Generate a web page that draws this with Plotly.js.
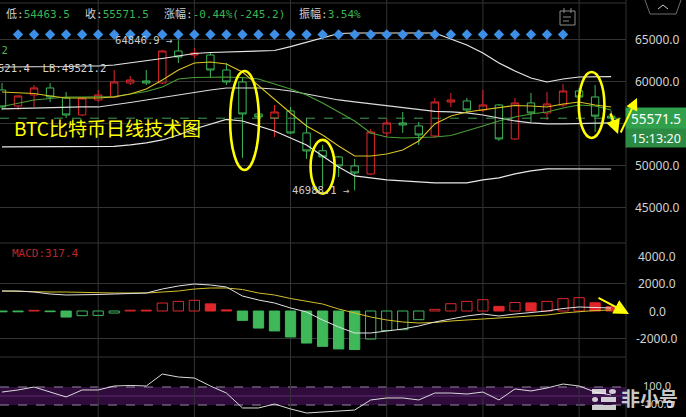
<!DOCTYPE html>
<html>
<head>
<meta charset="utf-8">
<script src="https://cdn.plot.ly/plotly-3.0.1.min.js"></script>
<style>
html,body{margin:0;padding:0;background:#000;overflow:hidden;}
#chart{width:686px;height:417px;}
</style>
</head>
<body>
<div id="chart"></div>
<script>
// ---------------- data ----------------
const days = Array.from({length: 39}, (_, i) => i);
const openP  = [58931,57027,58336,59169,57979,55956,57741,58098,59764,60002,59764,63572,63096,63096,61311,59883,56075,55599,56432,53814,51700,50958,49887,48929,53814,55004,54647,53457,57503,57622,56551,57146,53100,57384,56194,57146,58812,58098,55816.7];
const highP  = [59764,58300,59526,59764,58693,58098,58931,61311,60597,61311,63691,64846.9,63929,63453,62144,60478,56313,57146,56908,55599,52400,51077,50720,54290,55480,56313,55123,57979,58574,57979,58931,57265,57979,58574,58693,59640,59169,59526,56440];
const lowP   = [56551,56551,56908,57503,55599,55837,57503,57979,59526,59526,59645,62144,62739,60359,59526,50839,55361,53338,53695,50720,47300,48578,46988.1,48810,53338,53814,52386,53219,56908,56194,56313,52862,52981,55123,55361,56908,57741,53933,54463.5];
const closeP = [56908,58217,59169,58098,55956,57979,58336,59883,60121,59764,63572,62858,63334,61311,59883,56075,55718,56313,53814,51672,50958,49887,49054,53933,55004,54766,53576,57503,57741,56551,57146,53100,57384,56194,57265,58812,58098,55816.7,55571.5];

const bollUpper = [61668,61668,61668,61727,61727,61787,61787,61906,62144,62382,62680,62977,63275,63394,63453,63513,63572,63632,64096,64607,65119,65655,65714,65714,65714,65714,65714,65714,65000,64286,63334,62144,61192,60359,59883,60240,60478,60538,60521.4];
const bollMid   = [56670,56730,56789,56789,56849,56908,56908,57146,57444,57741,58039,58336,58693,58931,59169,59169,59169,59050,58812,58455,58098,57741,57503,57265,57027,56789,56551,56373,56313,56194,55956,55599,55242,55004,54885,54885,54945,55004,55021.2];
const bollLower = [52148,52148,52148,52148,52148,52148,52148,52208,52386,52624,52981,53576,54290,54885,55421,55242,54647,54052,53219,52386,51077,49768,48697,48459,48221,48102,47983,47864,47864,47864,48221,48459,48935,49292,49530,49530,49530,49530,49521.2];
const maFast    = [58693,58634,58515,58217,57979,57979,57979,58098,58455,59050,60121,61311,62144,62263,62025,61073,59407,57741,56194,54647,53576,52267,51077,51077,51315,51791,52862,54885,55837,56313,56551,56789,57087,57027,56908,57265,57503,57146,56908];
const maSlow    = [56968,57384,57741,57920,58098,58098,58098,58158,58455,58753,59288,60240,60419,60478,60478,60419,60240,59645,59050,58336,57384,56313,55242,53814,53338,53219,53279,53338,53517,54052,54647,55242,55718,56075,56313,56789,57146,57027,56551];

const macdHist = [-60,-60,50,-50,-440,-340,-320,-150,60,60,580,700,780,520,80,-680,-1240,-1450,-1890,-2330,-2570,-2760,-2800,-2040,-1420,-1360,-630,120,530,700,820,340,620,590,700,900,970,600,317.4];
const macdDif  = [1454,1454,1381,1236,1163,1163,1200,1236,1272,1309,1600,1818,1963,1890,1745,1090,800,582,218,-73,-654,-1163,-1600,-1600,-1454,-1309,-1090,-800,-582,-363,-218,-363,-218,-109,0,182,291,254,218];
const macdDea  = [1454,1418,1381,1381,1381,1345,1345,1309,1309,1309,1381,1454,1600,1672,1672,1563,1309,1163,909,727,509,145,-145,-436,-654,-800,-872,-836,-727,-654,-582,-545,-473,-363,-291,-145,-36,36,73];

const oscValues = [44,67,100,44,-11,67,67,111,117,111,244,211,200,111,33,-133,-133,-89,-144,-189,-178,-167,-156,-44,-22,-22,-44,33,33,22,44,-44,78,56,89,133,111,44,11];

const markerDays = Array.from({length: 35}, (_, i) => i + 1);
const gridDays   = [6, 12, 18, 24, 30, 36];
const circledDays = [15, 20, 37];

const priceTicks = [65000, 60000, 55000, 50000, 45000];
const priceLabels = [65000, 60000, 50000, 45000];   // 55000 sits under the price box
const macdTicks  = [4000, 2000, 0, -2000];
const oscTicks   = [100, -100];
const clockText  = '15:13:20';
const titleText  = 'BTC比特币日线技术图';

// ---------------- geometry helpers (pixel calibration) ----------------
const W = 686, H = 417, PLOT_W = 626;
const STEP = 16.03, X0PX = 2;
const xRange = [-X0PX / STEP, (PLOT_W - X0PX) / STEP];
const px = x => x / PLOT_W;
const py = y => 1 - y / H;
const PPX = 119.05;                       // price units per pixel
const priceAt = y => 65000 - (y - 39) * PPX;
const macdAt  = y => (311 - y) * 72.73;
const oscAt   = y => (396 - y) / 0.09;

// ---------------- colours ----------------
const RED = '#e0262b', GREEN = '#3fb85a', GRID = '#333333';
const YEL = '#ffff00', LABEL = '#cfcfcf', VAL = '#38b652';
const MONO = 'DejaVu Sans Mono, Noto Sans CJK SC, monospace';
const CJK = 'Noto Sans CJK SC, sans-serif';
const SANS = 'Noto Sans, Liberation Sans, sans-serif';

const last = closeP.length - 1;
const prevClose = closeP[last - 1];
const chg = closeP[last] - prevClose;
const chgPct = chg / prevClose * 100;
const amp = (highP[last] - lowP[last]) / prevClose * 100;

// ---------------- traces ----------------
const lineTrace = (y, color, width, yaxis) => ({
  type: 'scatter', mode: 'lines', x: days, y: y, yaxis: yaxis || 'y',
  line: {color: color, width: width}, hoverinfo: 'skip'
});

const histFill = macdHist.map((v, i) => {
  const prev = i ? macdHist[i - 1] : v;
  const col = v >= 0 ? RED : GREEN;
  return v > prev ? 'rgba(0,0,0,0)' : col;
});
const histLine = macdHist.map(v => v >= 0 ? RED : GREEN);

const traces = [
  lineTrace(bollUpper, '#e8e8e8', 1.2),
  lineTrace(bollMid, '#dcdcdc', 1.2),
  lineTrace(bollLower, '#e8e8e8', 1.2),
  lineTrace(maSlow, '#4a9f36', 1.1),
  lineTrace(maFast, '#d9c323', 1.1),
  {
    type: 'candlestick', x: days, open: openP, high: highP, low: lowP, close: closeP,
    increasing: {line: {color: RED, width: 1}, fillcolor: 'rgba(0,0,0,0)'},
    decreasing: {line: {color: GREEN, width: 1}, fillcolor: 'rgba(0,0,0,0)'},
    whiskerwidth: 0, hoverinfo: 'skip'
  },
  {
    type: 'scatter', mode: 'markers', x: markerDays,
    y: markerDays.map(() => priceAt(34.5)),
    marker: {symbol: 'diamond', size: 8, color: '#3d8ee6'}, hoverinfo: 'skip'
  },
  {
    type: 'bar', x: days, y: macdHist, yaxis: 'y2', width: 0.64,
    marker: {color: histFill, line: {color: histLine, width: 1}}, hoverinfo: 'skip'
  },
  lineTrace(macdDea, '#d2c02c', 1, 'y2'),
  lineTrace(macdDif, '#e2e2e2', 1, 'y2'),
  lineTrace(oscValues, '#dadada', 1, 'y3')
];

// ---------------- shapes ----------------
const pathFrom = pts => pts.map((p, i) => (i ? 'L' : 'M') + px(p[0]) + ',' + py(p[1])).join(' ');
const shapes = [];
shapes.push({type: 'rect', xref: 'paper', yref: 'y3', x0: 0, x1: 1, y0: -100, y1: 100,
  fillcolor: '#2f0c3c', line: {width: 0}, layer: 'below'});
shapes.push({type: 'line', xref: 'paper', yref: 'y3', x0: 0, x1: 1, y0: 0, y1: 0,
  line: {color: '#5e2a72', width: 1}, layer: 'below'});
oscTicks.forEach(v => shapes.push({type: 'line', xref: 'paper', yref: 'y3', x0: 0, x1: 1, y0: v, y1: v,
  line: {color: '#9686a6', width: 1, dash: 'dash'}, layer: 'below'}));
gridDays.forEach(d => shapes.push({type: 'line', xref: 'x', yref: 'paper', x0: d, x1: d, y0: 0, y1: 1,
  line: {color: GRID, width: 1}, layer: 'below'}));
[3, 243, 357].forEach(y => shapes.push({type: 'line', xref: 'paper', yref: 'paper', x0: 0, x1: 1, y0: py(y), y1: py(y),
  line: {color: GRID, width: 1}, layer: 'below'}));
shapes.push({type: 'line', xref: 'paper', yref: 'paper', x0: 1, x1: 1, y0: 0, y1: 1, line: {color: GRID, width: 1}});
shapes.push({type: 'line', xref: 'paper', yref: 'y', x0: 0, x1: 1, y0: closeP[last], y1: closeP[last],
  line: {color: '#3f9d52', width: 1, dash: 'dash'}});
const ellipseStyle = {15: {dx: 0.13, half: 0.9, top: 6, bot: 12}, 20: {dx: 0, half: 0.75, top: 5, bot: 6}, 37: {dx: -0.22, half: 0.8, top: 13, bot: 6}};
circledDays.forEach(d => {
  const s = ellipseStyle[d];
  shapes.push({type: 'circle', xref: 'x', yref: 'y',
    x0: d + s.dx - s.half, x1: d + s.dx + s.half,
    y0: lowP[d] - s.bot * PPX, y1: highP[d] + s.top * PPX,
    line: {color: YEL, width: 2.6}});
});
shapes.push({type: 'rect', xref: 'paper', yref: 'paper', x0: px(560), x1: px(575), y0: py(25), y1: py(11), line: {color: '#8c8c8c', width: 1}});
shapes.push({type: 'path', xref: 'paper', yref: 'paper', path: pathFrom([[563, 17], [571, 17]]), line: {color: '#8c8c8c', width: 1}});
shapes.push({type: 'path', xref: 'paper', yref: 'paper', path: pathFrom([[563, 21], [569, 21]]), line: {color: '#8c8c8c', width: 1}});
shapes.push({type: 'path', xref: 'paper', yref: 'paper', path: pathFrom([[564, 8], [564, 13]]), line: {color: '#8c8c8c', width: 1}});
shapes.push({type: 'path', xref: 'paper', yref: 'paper', path: pathFrom([[571, 8], [571, 13]]), line: {color: '#8c8c8c', width: 1}});
shapes.push({type: 'path', xref: 'paper', yref: 'paper', path: pathFrom([[645, 0], [650, 14], [676, 14], [681, 0]]), line: {color: '#6e6e6e', width: 1}});
shapes.push({type: 'path', xref: 'paper', yref: 'paper', path: pathFrom([[658, 9], [663, 5], [668, 9]]), line: {color: '#cccccc', width: 1}});
const wm = 'rgba(238,238,238,0.85)';
[[592, 389, 606, 394], [601, 397, 616, 402], [592, 405, 616, 410]].forEach(r =>
  shapes.push({type: 'rect', xref: 'paper', yref: 'paper', x0: px(r[0]), x1: px(r[2]), y0: py(r[3]), y1: py(r[1]), fillcolor: wm, line: {width: 0}}));
[[609, 389, 616, 394], [592, 397, 598, 402]].forEach(r =>
  shapes.push({type: 'circle', xref: 'paper', yref: 'paper', x0: px(r[0]), x1: px(r[2]), y0: py(r[3]), y1: py(r[1]), fillcolor: wm, line: {width: 0}}));

// ---------------- annotations ----------------
const ann = [];
const txt = (o) => Object.assign({showarrow: false, xref: 'paper', yref: 'paper'}, o);
const hdr = [
  [4, '低:', lowP[last].toFixed(1)],
  [83, '收:', closeP[last].toFixed(1)],
  [162, '涨幅:', chgPct.toFixed(2) + '%(' + chg.toFixed(1) + ')'],
  [297, '振幅:', amp.toFixed(2) + '%']
];
hdr.forEach(h => ann.push(txt({x: px(h[0]), y: py(14), xanchor: 'left', yanchor: 'middle',
  text: h[1] + '<span style="color:' + VAL + '">' + h[2] + '</span>',
  font: {family: MONO, size: 11, color: LABEL}})));
ann.push(txt({x: px(9.5), y: py(50), xanchor: 'right', yanchor: 'middle',
  text: 'MB:' + bollMid[last].toFixed(1), font: {family: MONO, size: 10.6, color: '#4fb04f'}}));
ann.push(txt({x: px(108), y: py(68), xanchor: 'right', yanchor: 'middle',
  text: 'UB:' + bollUpper[last].toFixed(1) + '\u00a0\u00a0LB:' + bollLower[last].toFixed(1),
  font: {family: MONO, size: 10.6, color: '#d2d2d2'}}));
const hiDay = highP.indexOf(Math.max(...highP));
const loDay = lowP.indexOf(Math.min(...lowP));
ann.push({xref: 'x', yref: 'y', x: hiDay, y: highP[hiDay], xanchor: 'right', yanchor: 'middle', xshift: -3, showarrow: false,
  text: highP[hiDay].toFixed(1) + ' →', font: {family: MONO, size: 10.6, color: '#cccccc'}});
ann.push({xref: 'x', yref: 'y', x: loDay, y: lowP[loDay], xanchor: 'right', yanchor: 'middle', xshift: -3, showarrow: false,
  text: lowP[loDay].toFixed(1) + ' →', font: {family: MONO, size: 10.6, color: '#cccccc'}});
ann.push(txt({x: px(12), y: py(127), xanchor: 'left', yanchor: 'middle', text: titleText,
  font: {family: CJK, size: 19, color: YEL}}));
ann.push(txt({x: px(10), y: py(253), xanchor: 'left', yanchor: 'middle',
  text: 'MACD:' + macdHist[last].toFixed(1), font: {family: MONO, size: 11, color: '#b8272c'}}));
priceLabels.forEach(v => ann.push({xref: 'paper', yref: 'y', x: px(657), y: v, xanchor: 'center', yanchor: 'middle', showarrow: false,
  text: v.toFixed(1), font: {family: SANS, size: 12, color: '#d2d2d2'}}));
macdTicks.forEach(v => ann.push({xref: 'paper', yref: 'y2', x: px(657), y: v, xanchor: 'center', yanchor: 'middle', showarrow: false,
  text: v.toFixed(1), font: {family: SANS, size: 12, color: '#d2d2d2'}}));
oscTicks.forEach(v => ann.push({xref: 'paper', yref: 'y3', x: px(657), y: v, xanchor: 'center', yanchor: 'middle', showarrow: false, yshift: 2,
  text: v.toFixed(1), font: {family: SANS, size: 11, color: '#cfcfcf'}}));
ann.push({xref: 'paper', yref: 'y', x: px(656), y: closeP[last], xanchor: 'center', yanchor: 'middle', showarrow: false,
  width: 60, height: 21, borderpad: 0, bgcolor: '#31a04d', text: closeP[last].toFixed(1),
  font: {family: SANS, size: 13.5, color: '#ffffff'}});
ann.push({xref: 'paper', yref: 'y', x: px(656), y: closeP[last], yshift: -20, xanchor: 'center', yanchor: 'middle', showarrow: false,
  width: 60, height: 18, borderpad: 0, bgcolor: '#2b8b43', text: clockText,
  font: {family: SANS, size: 12.5, color: '#ffffff'}});
const arrow = (hx, hy, tx, ty, size, width) => ({xref: 'paper', yref: 'paper', x: px(hx), y: py(hy),
  ax: tx - hx, ay: ty - hy, text: '', showarrow: true, arrowhead: 2, arrowsize: size, arrowwidth: width, arrowcolor: YEL});
ann.push(arrow(618, 134, 610, 112, 1.1, 2.6));
ann.push(arrow(637, 98, 620, 134, 1.2, 2));
ann.push(arrow(629, 314, 597, 297, 1.5, 2));
ann.push(txt({x: px(649), y: py(397), xanchor: 'center', yanchor: 'middle', text: '非小号',
  font: {family: CJK, size: 19, color: wm, weight: 'bold'}}));

// ---------------- layout ----------------
const hiddenY = {showticklabels: false, ticks: '', zeroline: false, showline: false, fixedrange: true, anchor: 'x'};
const layout = {
  width: W, height: H,
  margin: {l: 0, r: W - PLOT_W, t: 0, b: 0, pad: 0},
  paper_bgcolor: '#000000', plot_bgcolor: '#000000',
  showlegend: false, boxgap: 0.34, bargap: 0.3, dragmode: false,
  xaxis: {range: xRange, visible: false, fixedrange: true, rangeslider: {visible: false}, showgrid: false, zeroline: false},
  yaxis: Object.assign({domain: [py(240), py(22)], range: [priceAt(240), priceAt(22)],
    tickmode: 'array', tickvals: priceTicks, showgrid: true, gridcolor: GRID, gridwidth: 1}, hiddenY),
  yaxis2: Object.assign({domain: [py(355), py(243)], range: [macdAt(355), macdAt(243)],
    tickmode: 'array', tickvals: [2000, -2000], showgrid: true, gridcolor: GRID, gridwidth: 1}, hiddenY),
  yaxis3: Object.assign({domain: [0, py(358)], range: [oscAt(417), oscAt(358)], showgrid: false}, hiddenY),
  shapes: shapes,
  annotations: ann
};

Plotly.newPlot('chart', traces, layout, {staticPlot: true, displayModeBar: false});
</script>
</body>
</html>
